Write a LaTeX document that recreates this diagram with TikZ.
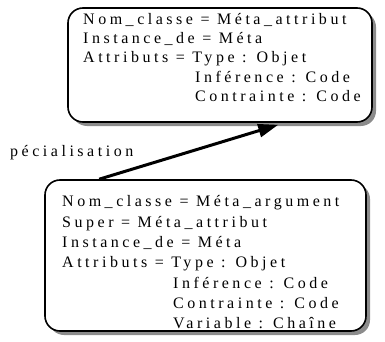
\documentclass[tikz,border=0pt]{standalone}
\usepackage{fontspec}
\usetikzlibrary{shadows,calc,arrows.meta}
\newfontfamily\spacedserif[LetterSpace=22]{Liberation Serif}
\tikzset{
  classbox/.style={draw=black, line width=1.6pt, rounded corners=15pt, fill=white,
    drop shadow={shadow xshift=4pt, shadow yshift=-4pt, fill=black!45, opacity=1}},
  txt/.style={anchor=base west, inner sep=0pt, font=\spacedserif\fontsize{16}{19}\selectfont},
  link/.style={line width=3pt, -{Triangle[length=20pt,width=13pt]}}
}
\begin{document}
\begin{tikzpicture}[x=1pt, y=-1pt]
\useasboundingbox (0,0) rectangle (385,342);
% class boxes
\node[classbox, minimum width=304pt, minimum height=114pt] (meta) at (220,65) {};
\node[classbox, minimum width=321pt, minimum height=151pt] (arg) at (205.5,255.5) {};
% upper box contents
\node[txt] (m1) at (83,25) {Nom\_classe = Méta\_attribut};
\node[txt] (m2) at (83,44) {Instance\_de = Méta};
\node[txt] (m3) at (83,63) {Attributs = Type : Objet};
\node[txt] (m4) at (195,83) {Inférence : Code};
\node[txt] (m5) at (195,102) {Contrainte : Code};
% lower box contents
\node[txt] (a1) at (62,206) {Nom\_classe = Méta\_argument};
\node[txt] (a2) at (62,227) {Super = Méta\_attribut};
\node[txt] (a3) at (62,247) {Instance\_de = Méta};
\node[txt] (a4) at (62,267) {Attributs = Type : Objet};
\node[txt] (a5) at (173,288) {Inférence : Code};
\node[txt] (a6) at (173,308) {Contrainte : Code};
\node[txt] (a7) at (173,328) {Variable : Chaîne};
% specialisation link
\coordinate (from) at ($(arg.north west)+(55,0)$);
\coordinate (to) at ($(meta.south west)+(211,2)$);
\draw[link] (from) -- (to);
\node[txt] (lbl) at (10,156) {pécialisation};
\end{tikzpicture}
\end{document}
